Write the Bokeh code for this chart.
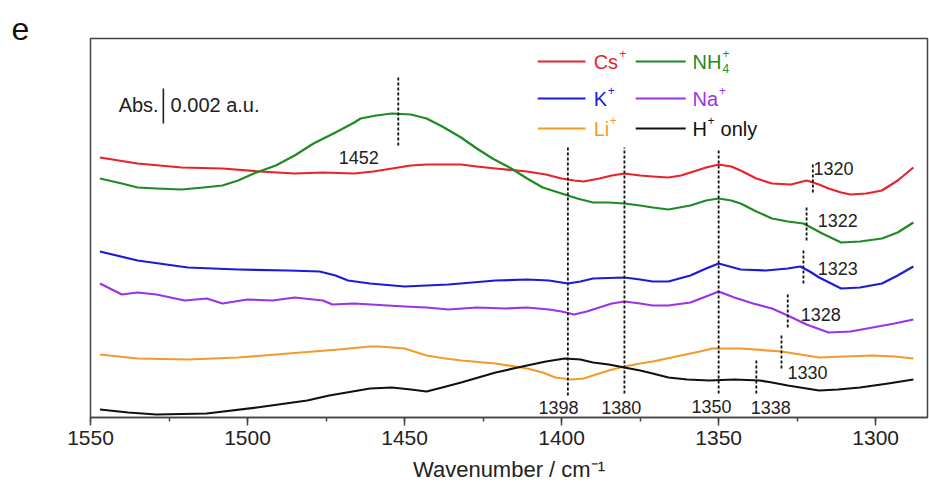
from bokeh.plotting import figure
from bokeh.models import Range1d, SingleIntervalTicker
from bokeh.core.properties import value
from bokeh.embed import file_html
from bokeh.resources import INLINE

# ---- spectra: wavenumber (cm-1) and offset absorbance (stacked, arb. units;
#      35 units correspond to 0.002 a.u.) ----
CS_WN = [1547, 1535, 1521, 1508, 1496, 1485, 1476, 1466, 1460, 1454, 1448, 1443, 1437,
         1432, 1427, 1421, 1411, 1405, 1400, 1396, 1393, 1388, 1384, 1380, 1375, 1371,
         1366, 1362, 1359, 1354, 1350, 1346, 1343, 1338, 1333, 1327, 1322, 1318, 1315,
         1311, 1308, 1303, 1298, 1293, 1288]
CS_ABS = [258, 252, 248, 247, 244, 242, 243, 242, 244, 247, 250, 251, 251,
          251, 249, 247, 244, 241, 237, 235, 234, 237, 240, 242, 240, 239,
          238, 240, 243, 248, 251, 249, 245, 237, 232, 231, 235, 231, 227,
          223, 221, 222, 225, 235, 248]

NH4_WN = [1547, 1540, 1535, 1529, 1521, 1514, 1508, 1503, 1498, 1491, 1485, 1479, 1472,
          1466, 1464, 1459, 1454, 1448, 1443, 1438, 1432, 1427, 1422, 1416, 1411, 1406,
          1400, 1395, 1390, 1385, 1380, 1375, 1371, 1366, 1359, 1354, 1350, 1346, 1343,
          1338, 1333, 1328, 1323, 1320, 1317, 1311, 1305, 1298, 1293, 1288]
NH4_ABS = [237, 232, 228, 227, 226, 228, 230, 235, 242, 250, 260, 272, 283,
           293, 297, 300, 302, 301, 297, 289, 278, 267, 257, 247, 237, 228,
           222, 217, 213, 213, 212, 210, 208, 206, 210, 215, 217, 215, 212,
           204, 197, 194, 192, 187, 182, 173, 174, 177, 183, 193]

K_WN = [1547, 1535, 1519, 1503, 1487, 1477, 1472, 1468, 1461, 1450, 1436, 1421, 1411,
        1404, 1398, 1394, 1390, 1380, 1375, 1371, 1366, 1359, 1354, 1350, 1343, 1335,
        1328, 1324, 1321, 1318, 1311, 1305, 1298, 1293, 1288]
K_ABS = [164, 155, 148, 146, 145, 144, 140, 135, 132, 129, 131, 135, 136,
         135, 132, 134, 137, 138, 136, 134, 134, 140, 147, 152, 146, 145,
         147, 149, 144, 138, 127, 128, 132, 140, 149]

NA_WN = [1547, 1540, 1535, 1529, 1520, 1513, 1508, 1500, 1492, 1485, 1476, 1473, 1466,
         1450, 1443, 1436, 1427, 1418, 1411, 1404, 1400, 1396, 1392, 1388, 1384, 1380,
         1375, 1371, 1366, 1359, 1354, 1350, 1345, 1339, 1333, 1328, 1322, 1315, 1308,
         1301, 1294, 1288]
NA_ABS = [132, 121, 123, 121, 115, 117, 112, 116, 115, 118, 115, 111, 112,
          109, 108, 106, 108, 107, 108, 106, 104, 101, 104, 108, 112, 114,
          112, 110, 110, 113, 119, 124, 118, 112, 107, 100, 91, 83, 84,
          88, 92, 96]

LI_WN = [1547, 1535, 1519, 1503, 1487, 1471, 1461, 1458, 1450, 1443, 1437, 1432, 1421,
         1411, 1406, 1402, 1397, 1393, 1390, 1385, 1380, 1375, 1371, 1362, 1356, 1352,
         1343, 1330, 1324, 1318, 1310, 1301, 1294, 1288]
LI_ABS = [61, 57, 56, 58, 62, 66, 69, 69, 67, 60, 57, 55, 52,
          47, 43, 38, 36, 37, 40, 45, 49, 52, 54, 60, 64, 67,
          67, 64, 61, 58, 59, 60, 59, 57]

H_WN = [1547, 1538, 1529, 1513, 1497, 1481, 1474, 1461, 1454, 1448, 1443, 1438, 1432,
        1421, 1411, 1405, 1399, 1394, 1390, 1385, 1380, 1375, 1371, 1366, 1360, 1353,
        1345, 1337, 1333, 1328, 1318, 1312, 1305, 1296, 1288]
H_ABS = [6, 3, 1, 2, 8, 15, 20, 27, 28, 26, 24, 28, 33,
         43, 50, 54, 57, 56, 53, 51, 48, 45, 42, 38, 36, 35,
         36, 35, 33, 30, 25, 26, 28, 32, 36]

# ---- marked band positions (cm-1) ----
PEAKS = [1452, 1398, 1380, 1350, 1338, 1330, 1328, 1323, 1322, 1320]

# ---- styling / layout ----
FONT = "Liberation Sans"
C_CS, C_NH4, C_K = "#e8222b", "#1f8a24", "#1c1cd6"
C_NA, C_LI, C_H = "#9a34e4", "#f39a2c", "#111111"
LINE_W = 2.2

# vertical extent of each dotted marker and the position of its number
MARKER_LAYOUT = {
    1452: dict(lo=270, hi=338, lx=1464.6, ly=258),
    1398: dict(lo=20, hi=270, lx=1401.0, ly=8.5),
    1380: dict(lo=22, hi=268, lx=1381.0, ly=8.5),
    1350: dict(lo=22, hi=267, lx=1352.3, ly=9),
    1338: dict(lo=22, hi=57, lx=1333.4, ly=8),
    1330: dict(lo=47, hi=80, lx=1321.7, ly=43),
    1328: dict(lo=88, hi=123, lx=1317.5, ly=101),
    1323: dict(lo=132, hi=165, lx=1312.1, ly=147),
    1322: dict(lo=175, hi=210, lx=1312.1, ly=195),
    1320: dict(lo=223, hi=252, lx=1313.4, ly=247),
}

p = figure(width=929, height=487, output_backend="svg", toolbar_location=None,
           x_range=Range1d(1550, 1283.5), y_range=Range1d(-2, 377),
           min_border_left=90, min_border_right=2, min_border_top=38,
           min_border_bottom=70, background_fill_color="white",
           border_fill_color="white")

# panel letter in the top-left corner
p.title.text = "e"
p.title.text_font = FONT
p.title.text_font_size = "32px"
p.title.text_font_style = "normal"
p.title.text_color = "#111111"
p.title.align = "left"
p.title.offset = -79
p.title.standoff = -3

p.grid.visible = False
p.yaxis.visible = False
p.outline_line_color = "#444444"
p.outline_line_width = 1.5

ax = p.xaxis[0]
ax.ticker = SingleIntervalTicker(interval=50, num_minor_ticks=2)
ax.axis_line_color = "#444444"
ax.axis_line_width = 1.5
ax.major_tick_line_color = "#444444"
ax.minor_tick_line_color = "#444444"
ax.major_tick_line_width = 1.5
ax.minor_tick_line_width = 1.5
ax.major_tick_in = 0
ax.major_tick_out = 8
ax.minor_tick_in = 0
ax.minor_tick_out = 4
ax.major_label_text_font = FONT
ax.major_label_text_font_size = "21px"
ax.major_label_text_color = "#222222"
ax.major_label_standoff = 5
ax.axis_label = "Wavenumber / cm\u207b\u00b9"
ax.axis_label_text_font = FONT
ax.axis_label_text_font_size = "22px"
ax.axis_label_text_font_style = "normal"
ax.axis_label_text_color = "#222222"
ax.axis_label_standoff = 9

# spectra
for wn, ab, col in [(CS_WN, CS_ABS, C_CS), (NH4_WN, NH4_ABS, C_NH4), (K_WN, K_ABS, C_K),
                    (NA_WN, NA_ABS, C_NA), (LI_WN, LI_ABS, C_LI), (H_WN, H_ABS, C_H)]:
    p.line(wn, ab, line_color=col, line_width=LINE_W, line_join="round")

# dotted band markers with their wavenumbers
for pk in PEAKS:
    m = MARKER_LAYOUT[pk]
    p.segment(x0=[pk], y0=[m["lo"]], x1=[pk], y1=[m["hi"]], line_color="#111111",
              line_width=1.8, line_dash="3 2")
    p.text(x=[m["lx"]], y=[m["ly"]], text=[str(pk)], text_font=value(FONT),
           text_font_size="18px", text_color="#222222", text_align="center",
           text_baseline="middle")

# absorbance scale bar
p.segment(x0=[1526.8], y0=[292], x1=[1526.8], y1=[327], line_color="#222222", line_width=1.6)
p.text(x=[1528.3], y=[311], text=["Abs."], text_font=value(FONT), text_font_size="20px",
       text_color="#222222", text_align="right", text_baseline="middle")
p.text(x=[1524.5], y=[311], text=["0.002 a.u."], text_font=value(FONT), text_font_size="20px",
       text_color="#222222", text_align="left", text_baseline="middle")

# legend: two columns of coloured line + label
LEG_ROWS = [354, 317, 287]
LEG_COLS = [(1407.6, 1392.4, 1389.8), (1376.4, 1360.5, 1358.3)]
legend_items = [
    (0, 0, C_CS, "Cs", 25.5, None, None),
    (0, 1, C_NH4, "NH", 30.0, "4", None),
    (1, 0, C_K, "K", 14.0, None, None),
    (1, 1, C_NA, "Na", 26.5, None, None),
    (2, 0, C_LI, "Li", 16.0, None, None),
    (2, 1, C_H, "H", 15.0, None, "only"),
]
for row, col, color, base, sup_dx, sub, tail in legend_items:
    y = LEG_ROWS[row]
    x0, x1, xt = LEG_COLS[col]
    p.segment(x0=[x0], y0=[y], x1=[x1], y1=[y], line_color=color, line_width=LINE_W)
    p.text(x=[xt], y=[y], text=[base], text_font=value(FONT), text_font_size="20px",
           text_color=color, text_align="left", text_baseline="middle")
    p.text(x=[xt], y=[y], text=["+"], text_font=value(FONT), text_font_size="12px",
           text_color=color, text_align="left", text_baseline="middle",
           x_offset=sup_dx, y_offset=-8)
    if sub:
        p.text(x=[xt], y=[y], text=[sub], text_font=value(FONT), text_font_size="12px",
               text_color=color, text_align="left", text_baseline="middle",
               x_offset=sup_dx, y_offset=7)
    if tail:
        p.text(x=[xt], y=[y], text=[tail], text_font=value(FONT), text_font_size="20px",
               text_color=color, text_align="left", text_baseline="middle",
               x_offset=sup_dx + 13)

open("out.html", "w").write(file_html(p, INLINE))
